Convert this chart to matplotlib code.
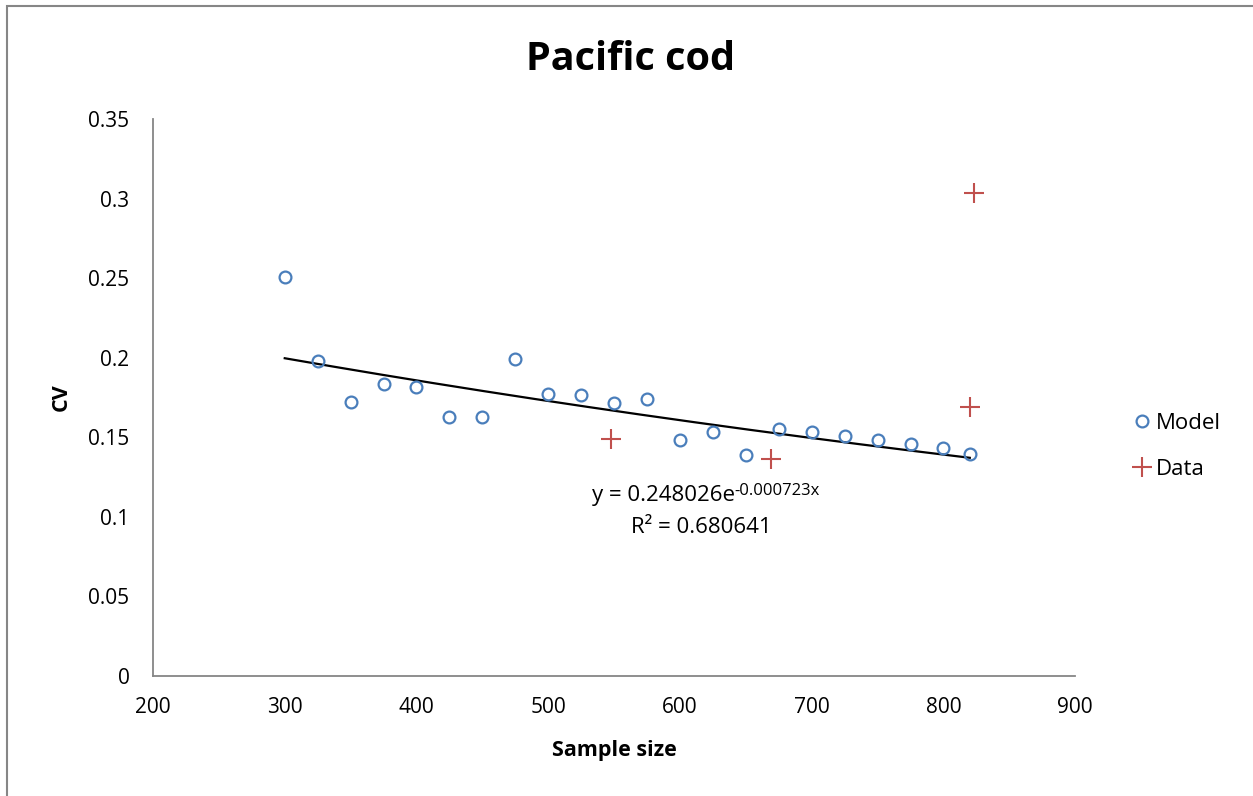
import numpy as np
import matplotlib.pyplot as plt
from matplotlib.patches import Rectangle

# Model CV by sample size
model_x = [300, 325, 350, 375, 400, 425, 450, 475, 500, 525, 550, 575,
           600, 625, 650, 675, 700, 725, 750, 775, 800, 820]
model_y = [0.251, 0.198, 0.172, 0.1835, 0.1815, 0.163, 0.163, 0.199, 0.177, 0.1765,
           0.1715, 0.174, 0.148, 0.153, 0.139, 0.155, 0.153, 0.1505, 0.148, 0.146,
           0.143, 0.1395]

# Observed data
data_x = [548, 669, 820, 823]
data_y = [0.149, 0.1365, 0.169, 0.3035]

# exponential trendline as shown on chart
a_coef = 0.248026
b_coef = -0.000723

plt.rcParams['font.family'] = ['Open Sans', 'DejaVu Sans']

fig = plt.figure(figsize=(12.53, 7.96), dpi=100)
ax = fig.add_axes([0.1221, 0.1508, 0.7360, 0.6997])

tx = np.linspace(min(model_x), max(model_x), 200)
ax.plot(tx, a_coef * np.exp(b_coef * tx), color='black', lw=1.6, zorder=2)

ax.plot(model_x, model_y, 'o', ms=8.5, mfc='none', mec='#4a7ebb', mew=1.6,
        label='Model', zorder=3)
ax.plot(data_x, data_y, '+', ms=15, color='#c0504d', mew=1.5, label='Data', zorder=3)

ax.set_xlim(200, 900)
ax.set_ylim(0, 0.35)
ax.set_xticks(range(200, 901, 100))
ax.set_yticks([0, 0.05, 0.1, 0.15, 0.2, 0.25, 0.3, 0.35])
ax.set_yticklabels(['0', '0.05', '0.1', '0.15', '0.2', '0.25', '0.3', '0.35'])
ax.tick_params(length=0, labelsize=15)
ax.tick_params(axis='x', pad=15)
ax.tick_params(axis='y', pad=17)
for s in ['top', 'right']:
    ax.spines[s].set_visible(False)
for s in ['left', 'bottom']:
    ax.spines[s].set_color('#868686')
    ax.spines[s].set_linewidth(1.3)

ax.set_xlabel('Sample size', fontsize=15.5, fontweight='bold', labelpad=16)
ax.set_ylabel('CV', fontsize=15.5, fontweight='bold', labelpad=12)
fig.text(0.503, 0.925, 'Pacific cod', ha='center', va='center', fontsize=28.5,
         fontweight='bold')

# trendline equation, superscript with a plain hyphen
eq = ax.text(533, 0.1135, 'y = 0.248026e', ha='left', va='center', fontsize=16)
fig.canvas.draw()
bb = eq.get_window_extent()
fig.text(bb.x1 / fig.bbox.width, (bb.y1 - 6) / fig.bbox.height, '-0.000723x',
         ha='left', va='center', fontsize=12)
ax.text(616, 0.093, 'R² = 0.680641', ha='center', va='center', fontsize=16)

ax.legend(loc='center left', bbox_to_anchor=(1.036, 0.412), frameon=False,
          fontsize=16, handletextpad=0.05, handlelength=1.2, labelspacing=1.1)

fig.patches.append(Rectangle((0.0056, -0.01), 1.0, 1.0025, transform=fig.transFigure,
                             fill=False, ec='#868686', lw=1.5))

fig.savefig('out.png', dpi=100)
